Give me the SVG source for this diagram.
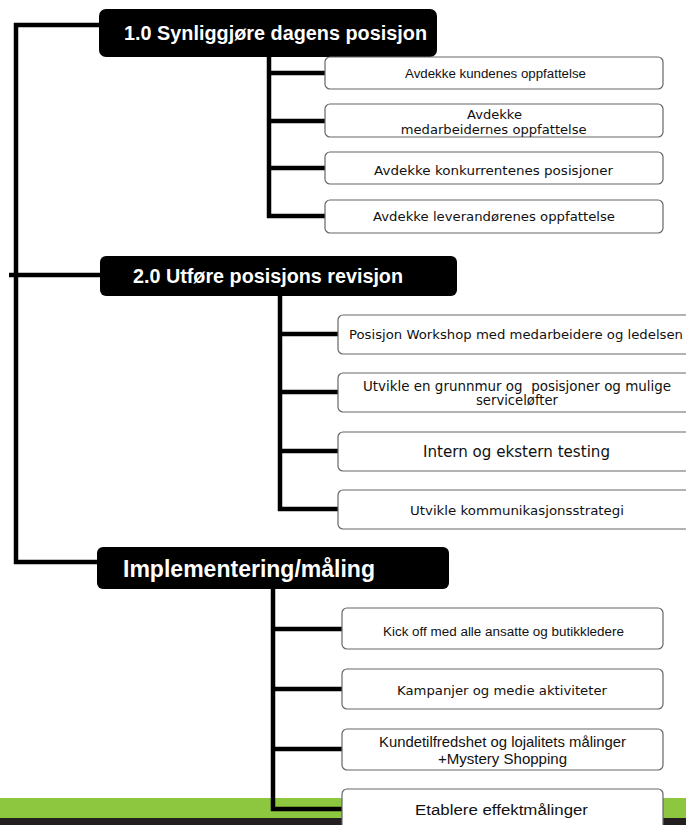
<svg xmlns="http://www.w3.org/2000/svg" width="686" height="825" viewBox="0 0 686 825">
<style>
.hdr{fill:#000;}
.ht{fill:#fff;font-family:"Liberation Sans",Arial,sans-serif;font-weight:bold;}
.box{fill:#fff;stroke:#666;stroke-width:1.2;}
.ta{fill:#111;font-family:"Liberation Sans",Arial,sans-serif;text-anchor:middle;}
.tv{fill:#111;font-family:"DejaVu Sans",Verdana,sans-serif;text-anchor:middle;}
.ln{stroke:#000;stroke-width:4.5;fill:none;stroke-linecap:butt;}
</style>
<rect x="0" y="0" width="686" height="825" fill="#fff"/>
<g id="band">
<rect x="0" y="798" width="686" height="21" fill="#8dc63f"/>
<rect x="0" y="818" width="686" height="7" fill="#231f20"/>
</g>
<g id="connectors">
<path class="ln" d="M16 23 V564"/>
<path class="ln" d="M14 25 H100"/>
<path class="ln" d="M9 275 H100"/>
<path class="ln" d="M14 562 H97"/>
<path class="ln" d="M269 57 V218"/>
<path class="ln" d="M267 73 H325 M267 121 H325 M267 168 H325 M267 216 H325"/>
<path class="ln" d="M280 296 V511"/>
<path class="ln" d="M278 334 H338 M278 392 H338 M278 451 H338 M278 509 H338"/>
<path class="ln" d="M273 589 V811"/>
<path class="ln" d="M271 629 H342 M271 689 H342 M271 749 H342 M271 809 H342"/>
</g>
<g id="h1"><rect class="hdr" x="99" y="9" width="338" height="48" rx="7"/><text class="ht" x="124" y="40" font-size="19.5" textLength="303" lengthAdjust="spacingAndGlyphs">1.0 Synliggjøre dagens posisjon</text></g>
<g id="h2"><rect class="hdr" x="100" y="256" width="357" height="40" rx="6"/><text class="ht" x="133" y="283" font-size="19.5" textLength="270" lengthAdjust="spacingAndGlyphs">2.0 Utføre posisjons revisjon</text></g>
<g id="h3"><rect class="hdr" x="97" y="547" width="352" height="42" rx="6"/><text class="ht" x="123" y="577" font-size="23" textLength="252" lengthAdjust="spacingAndGlyphs">Implementering/måling</text></g>
<g id="b11"><rect class="box" x="325" y="57" width="338" height="32" rx="5"/><text class="ta" x="495.5" y="78" font-size="12.5" textLength="181" lengthAdjust="spacingAndGlyphs">Avdekke kundenes oppfattelse</text></g>
<g id="b12"><rect class="box" x="325" y="104" width="338" height="33" rx="5"/><text class="tv" x="494.5" y="118.5" font-size="12.5" textLength="55" lengthAdjust="spacingAndGlyphs">Avdekke</text><text class="tv" x="493.7" y="134" font-size="12.5" textLength="186" lengthAdjust="spacingAndGlyphs">medarbeidernes oppfattelse</text></g>
<g id="b13"><rect class="box" x="325" y="152" width="338" height="32" rx="5"/><text class="tv" x="493.5" y="174.5" font-size="12.5" textLength="239" lengthAdjust="spacingAndGlyphs">Avdekke konkurrentenes posisjoner</text></g>
<g id="b14"><rect class="box" x="325" y="200" width="338" height="33" rx="5"/><text class="tv" x="494" y="221" font-size="12.5" textLength="242" lengthAdjust="spacingAndGlyphs">Avdekke leverandørenes oppfattelse</text></g>
<g id="b21"><rect class="box" x="338" y="315" width="360" height="39" rx="5"/><text class="tv" x="516" y="338.5" font-size="12.5" textLength="334" lengthAdjust="spacingAndGlyphs">Posisjon Workshop med medarbeidere og ledelsen</text></g>
<g id="b22"><rect class="box" x="338" y="373" width="360" height="39" rx="5"/><text class="tv" x="517" y="390.5" font-size="13.5" textLength="308" lengthAdjust="spacingAndGlyphs" xml:space="preserve">Utvikle en grunnmur og  posisjoner og mulige</text><text class="tv" x="517" y="405" font-size="13.5" textLength="82" lengthAdjust="spacingAndGlyphs">serviceløfter</text></g>
<g id="b23"><rect class="box" x="338" y="432" width="360" height="39" rx="5"/><text class="tv" x="516.5" y="457" font-size="15" textLength="187" lengthAdjust="spacingAndGlyphs">Intern og ekstern testing</text></g>
<g id="b24"><rect class="box" x="338" y="490" width="360" height="39" rx="5"/><text class="tv" x="517" y="514.5" font-size="12.5" textLength="214" lengthAdjust="spacingAndGlyphs">Utvikle kommunikasjonsstrategi</text></g>
<g id="b31"><rect class="box" x="342" y="608" width="321" height="41" rx="5"/><text class="ta" x="503.5" y="636" font-size="12.5" textLength="241" lengthAdjust="spacingAndGlyphs">Kick off med alle ansatte og butikkledere</text></g>
<g id="b32"><rect class="box" x="342" y="669" width="321" height="40" rx="5"/><text class="tv" x="502" y="694.5" font-size="12.5" textLength="210" lengthAdjust="spacingAndGlyphs">Kampanjer og medie aktiviteter</text></g>
<g id="b33"><rect class="box" x="342" y="729" width="321" height="41" rx="5"/><text class="ta" x="502.5" y="747" font-size="15" textLength="247" lengthAdjust="spacingAndGlyphs">Kundetilfredshet og lojalitets målinger</text><text class="ta" x="502.5" y="763.5" font-size="15" textLength="129" lengthAdjust="spacingAndGlyphs">+Mystery Shopping</text></g>
<g id="b34"><rect class="box" x="342" y="789" width="321" height="50" rx="5"/><text class="ta" x="501.5" y="815" font-size="15.5" textLength="173" lengthAdjust="spacingAndGlyphs">Etablere effektmålinger</text></g>
</svg>
